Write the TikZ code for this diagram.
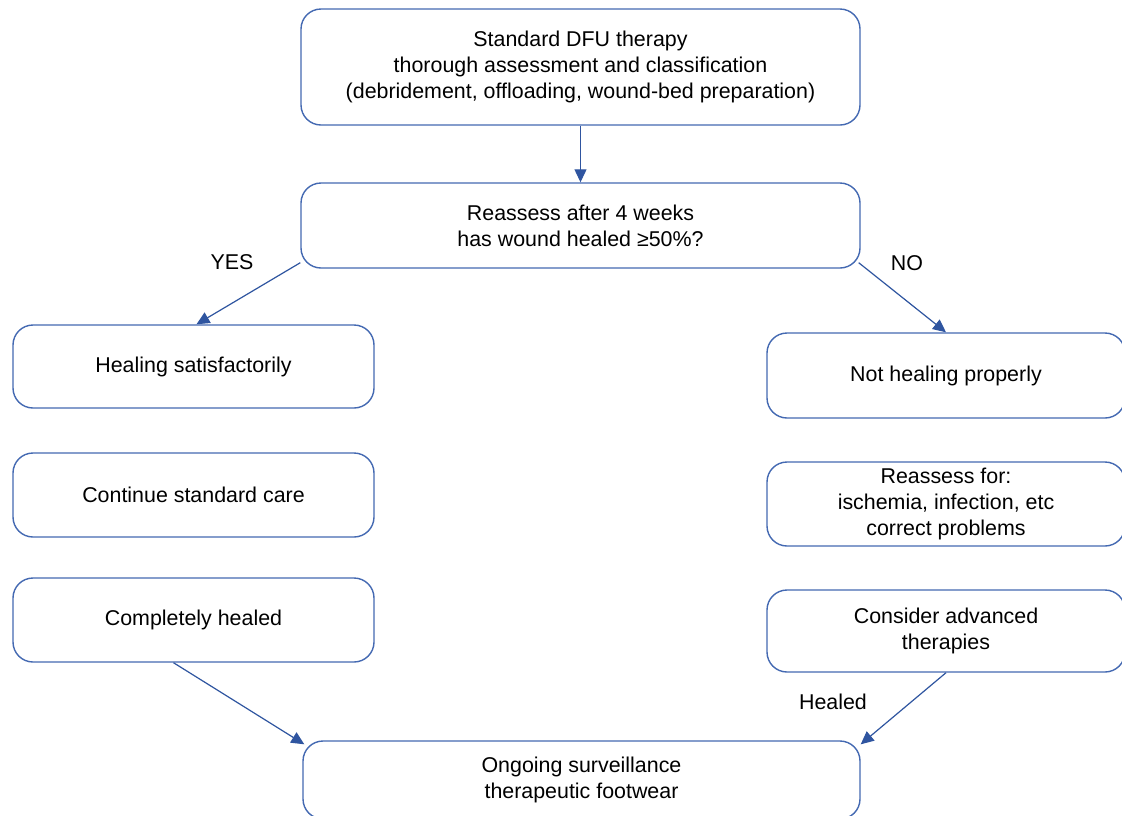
\documentclass[tikz,border=0pt]{standalone}
\usepackage{fontspec}
\setmainfont{Liberation Sans}
\usetikzlibrary{arrows.meta,calc}
\definecolor{boxblue}{RGB}{68,105,178}
\definecolor{arrblue}{RGB}{47,85,160}
\tikzset{
  flowbox/.style={draw=boxblue, line width=1.4pt, rounded corners=20pt, fill=white,
    align=center, font=\fontsize{21.4}{26}\selectfont, inner sep=0pt},
  flowarrow/.style={draw=arrblue, line width=1.2pt, -{Triangle[length=13pt,width=12pt]}},
  lbl/.style={font=\fontsize{21.4}{26}\selectfont, inner sep=0pt}
}
\begin{document}
\begin{tikzpicture}[x=1pt,y=-1pt]
\useasboundingbox (0,0) rectangle (1122,815);
\clip (0,0) rectangle (1122,815);
\fill[white] (0,0) rectangle (1122,815);
\node[flowbox, minimum width=559pt, minimum height=116pt] (top) at (580.5,67)
  {Standard DFU therapy\\thorough assessment and classification\\(debridement, offloading, wound-bed preparation)};
\node[flowbox, minimum width=559pt, minimum height=85pt] (reassess) at (580.5,225.5)
  {Reassess after 4 weeks\\has wound healed ≥50\%?};
\node[flowbox, minimum width=361pt, minimum height=83pt] (heal) at (193.5,366.5) {Healing satisfactorily};
\node[flowbox, minimum width=361pt, minimum height=84pt] (cont) at (193.5,495) {Continue standard care};
\node[flowbox, minimum width=361pt, minimum height=84pt] (comp) at (193.5,620) {Completely healed};
\node[flowbox, minimum width=358pt, minimum height=85pt] (nothealing) at (946,375.5) {Not healing properly};
\node[flowbox, minimum width=358pt, minimum height=84pt] (reassessfor) at (946,504)
  {Reassess for:\\ischemia, infection, etc\\correct problems};
\node[flowbox, minimum width=358pt, minimum height=82pt] (adv) at (946,631)
  {Consider advanced\\therapies};
\node[flowbox, minimum width=557pt, minimum height=78pt] (ongoing) at (581.5,780)
  {Ongoing surveillance\\therapeutic footwear};
\node[lbl] (yes) at (232,262) {YES};
\node[lbl] (no) at (907,263) {NO};
\node[lbl] (healedlbl) at (833,702) {Healed};
\draw[flowarrow] (top.south) -- (reassess.north);
\draw[flowarrow] ($(reassess.south west)+(0,-6)$) -- ($(heal.north)+(3,0)$);
\draw[flowarrow] ($(reassess.south east)+(-2,-6)$) -- (nothealing.north);
\draw[flowarrow] ($(comp.south)+(-20,0)$) -- ($(ongoing.north west)+(2,4)$);
\draw[flowarrow] (adv.south) -- ($(ongoing.north east)+(0,4)$);
\end{tikzpicture}
\end{document}
